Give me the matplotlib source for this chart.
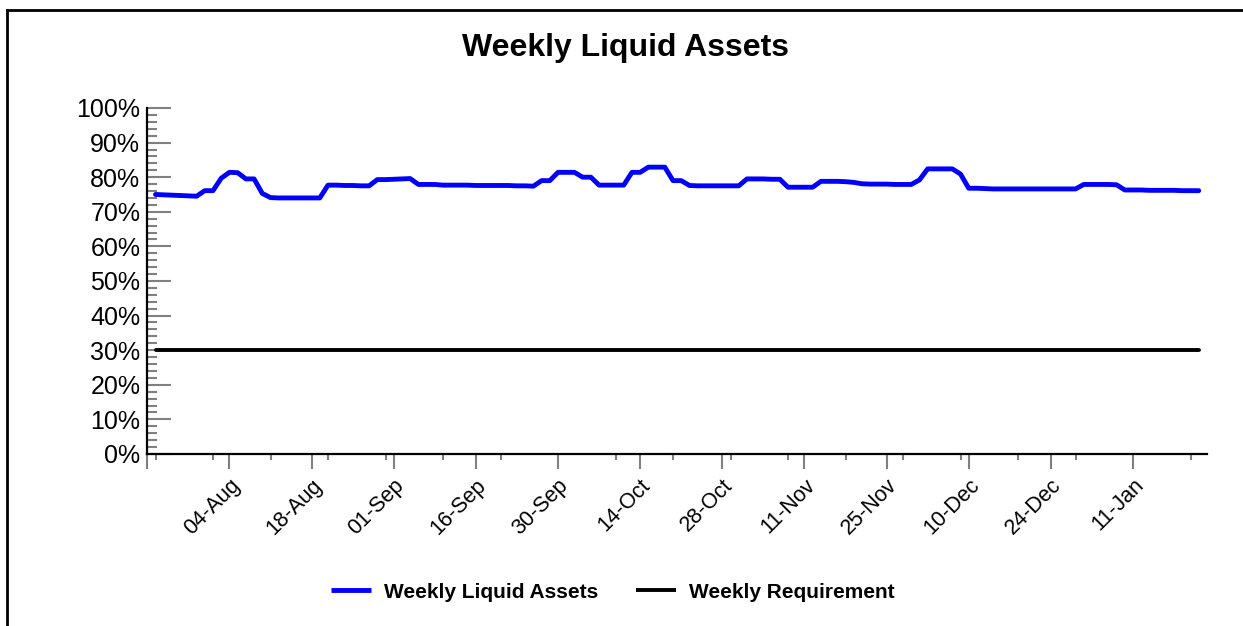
import matplotlib
matplotlib.use("Agg")
import matplotlib.pyplot as plt
from matplotlib.lines import Line2D
from matplotlib.ticker import MultipleLocator, FixedLocator, FuncFormatter

plt.rcParams['font.family'] = ['Liberation Sans', 'DejaVu Sans']

# business-day index of each observation (1..128)
day_index = list(range(1, 129))

# weekly liquid assets, % of total assets
liquid_assets = [
    75.0, 74.9, 74.8, 74.7, 74.6, 74.5, 76.1, 76.1, 79.7, 81.4,
    81.3, 79.5, 79.5, 75.3, 74.1, 74.0, 74.0, 74.0, 74.0, 74.0,
    74.0, 77.7, 77.7, 77.6, 77.6, 77.5, 77.5, 79.3, 79.3, 79.4,
    79.5, 79.6, 77.9, 77.9, 77.9, 77.7, 77.7, 77.7, 77.7, 77.6,
    77.6, 77.6, 77.6, 77.6, 77.5, 77.5, 77.4, 79.0, 79.0, 81.4,
    81.4, 81.4, 80.0, 80.0, 77.7, 77.7, 77.7, 77.7, 81.4, 81.4,
    82.9, 82.9, 82.9, 79.0, 79.0, 77.6, 77.5, 77.5, 77.5, 77.5,
    77.5, 77.5, 79.5, 79.5, 79.5, 79.4, 79.4, 77.1, 77.1, 77.1,
    77.1, 78.8, 78.8, 78.8, 78.7, 78.5, 78.1, 78.0, 78.0, 78.0,
    77.9, 77.9, 77.9, 79.2, 82.4, 82.4, 82.4, 82.4, 80.9, 76.8,
    76.8, 76.7, 76.6, 76.6, 76.6, 76.6, 76.6, 76.6, 76.6, 76.6,
    76.6, 76.6, 76.6, 77.9, 77.9, 77.9, 77.9, 77.8, 76.3, 76.3,
    76.3, 76.2, 76.2, 76.2, 76.2, 76.1, 76.1, 76.1,
]

# regulatory minimum
requirement = [30.0] * len(day_index)

tick_index = [10, 20, 30, 40, 50, 60, 70, 80, 90, 100, 110, 120]
tick_labels = ["04-Aug", "18-Aug", "01-Sep", "16-Sep", "30-Sep", "14-Oct",
               "28-Oct", "11-Nov", "25-Nov", "10-Dec", "24-Dec", "11-Jan"]

fig = plt.figure(figsize=(12.43, 6.26), dpi=100)
ax = fig.add_axes([0.1185, 0.2748, 0.8525, 0.5527])

ax.plot(day_index, liquid_assets, color="#0000ff", lw=3.5,
        solid_capstyle="round", solid_joinstyle="round", label="Weekly Liquid Assets")
ax.plot(day_index, requirement, color="black", lw=2.8,
        solid_capstyle="round", label="Weekly Requirement")

ax.set_xlim(0, 129)
ax.set_ylim(0, 100)

# y axis
ax.yaxis.set_major_locator(MultipleLocator(10))
ax.yaxis.set_minor_locator(MultipleLocator(2))
ax.yaxis.set_major_formatter(FuncFormatter(lambda v, p: f"{v:.0f}%"))
ax.tick_params(axis="y", which="major", direction="in", length=17.5, width=1.5,
               color="#808080", labelsize=18, pad=5)
ax.tick_params(axis="y", which="minor", direction="in", length=7.5, width=1.5,
               color="#808080")

# x axis
ax.xaxis.set_major_locator(FixedLocator([0] + tick_index))
ax.set_xticklabels([""] + tick_labels)
ax.xaxis.set_minor_locator(FixedLocator(list(range(1, 129, 7))))
ax.tick_params(axis="x", which="major", direction="out", length=11, width=1.5,
               color="#808080", labelsize=15.5, pad=4)
ax.tick_params(axis="x", which="minor", direction="out", length=4.5, width=1.5,
               color="#808080")
for lbl in ax.get_xticklabels():
    lbl.set_rotation(45)
    lbl.set_ha("right")
    lbl.set_va("top")
    lbl.set_rotation_mode("anchor")

for side in ["top", "right"]:
    ax.spines[side].set_visible(False)
for side in ["left", "bottom"]:
    ax.spines[side].set_linewidth(1.6)
    ax.spines[side].set_color("black")

fig.text(625 / 1243, 1 - 48 / 626, "Weekly Liquid Assets", ha="center", va="center",
         fontsize=23, fontweight="bold")

leg = fig.legend(loc="center", bbox_to_anchor=(613 / 1243, 1 - 592 / 626), ncol=2,
                 frameon=False, prop={"size": 15, "weight": "bold"},
                 handlelength=1.9, handletextpad=0.65, columnspacing=1.8)
for h in leg.get_lines():
    h.set_solid_capstyle("butt")

# outer frame (top and left edges)
fig.add_artist(Line2D([7 / 1243, 1.0], [1 - 10 / 626, 1 - 10 / 626],
                      transform=fig.transFigure, color="black", lw=2))
fig.add_artist(Line2D([7 / 1243, 7 / 1243], [0.0, 1 - 10 / 626],
                      transform=fig.transFigure, color="black", lw=2))

fig.savefig("out.png", dpi=100)
